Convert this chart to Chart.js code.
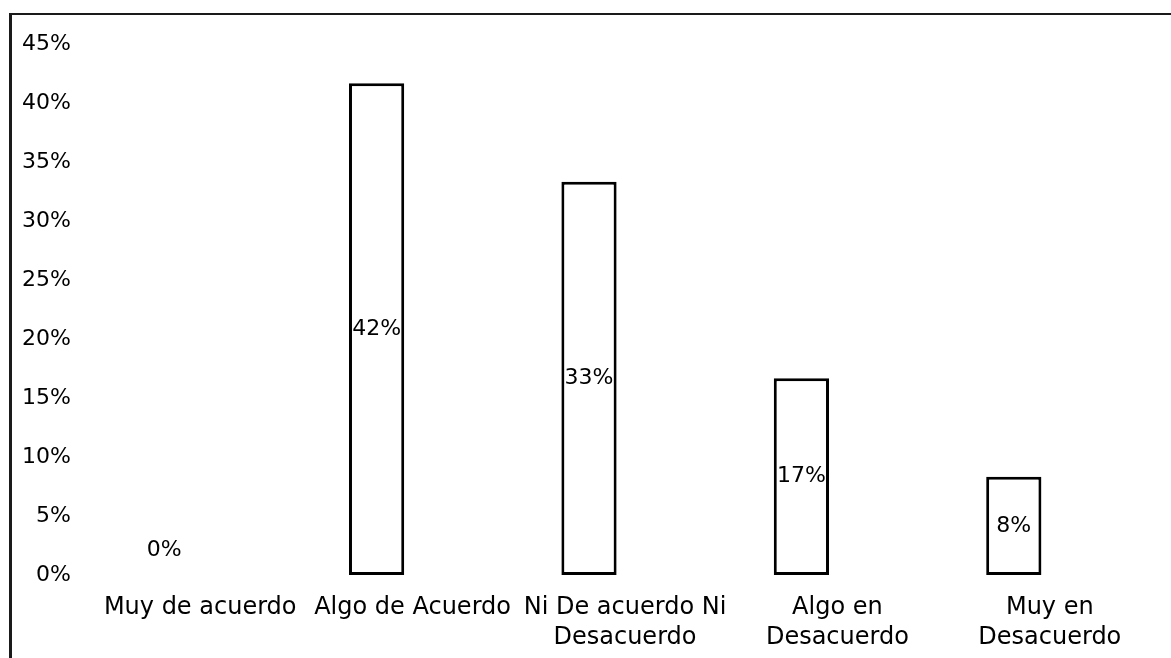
<!DOCTYPE html>
<html>
<head>
<meta charset="utf-8">
<script src="https://cdn.jsdelivr.net/npm/chart.js@4.4.0/dist/chart.umd.min.js"></script>
<style>
  html, body { margin: 0; padding: 0; background: #fff; overflow: hidden; }
  #wrap { position: relative; width: 1171px; height: 658px; }
  #frame { position: absolute; left: 9px; top: 13px; width: 1220px; height: 720px;
           border-left: 3px solid #1a1a1a; border-top: 2px solid #1a1a1a; }
  #myChart { position: absolute; left: 0; top: 0; }
</style>
</head>
<body>
<div id="wrap">
  <div id="frame"></div>
  <canvas id="myChart" width="1171" height="658"></canvas>
</div>
<script>
// answer categories (multi-line labels as in the original)
const categories = [
    ['Muy de acuerdo'],
    ['Algo de Acuerdo'],
    ['Ni De acuerdo Ni', 'Desacuerdo'],
    ['Algo en', 'Desacuerdo'],
    ['Muy en', 'Desacuerdo']
];
// share of answers, in %
const percentages = [0, 41.67, 33.33, 16.67, 8.33];
const valueLabels = ['0%', '42%', '33%', '17%', '8%'];
// y axis: 0% .. 45% every 5%
const yMax = 45;
const yStep = 5;

const FONT = '"DejaVu Sans", sans-serif';

// draws the percentage in the middle of each bar (above it when the bar is empty)
const barLabels = {
    id: 'barLabels',
    afterDatasetsDraw(chart) {
        const ctx = chart.ctx;
        const meta = chart.getDatasetMeta(0);
        ctx.save();
        ctx.font = '22px ' + FONT;
        ctx.fillStyle = '#000';
        ctx.textAlign = 'center';
        ctx.textBaseline = 'middle';
        meta.data.forEach((bar, i) => {
            let y = (bar.y + bar.base) / 2;
            if (bar.base - bar.y < 30) y = bar.base - 25;
            ctx.fillText(valueLabels[i], bar.x, y);
        });
        ctx.restore();
    }
};

new Chart(document.getElementById('myChart').getContext('2d'), {
    type: 'bar',
    data: {
        labels: categories,
        datasets: [{
            data: percentages,
            backgroundColor: '#fff',
            borderColor: '#000',
            borderWidth: (c) => (c.raw === 0 ? 0 : 3),
            borderSkipped: false,
            categoryPercentage: 1,
            barPercentage: 0.26
        }]
    },
    options: {
        responsive: false,
        animation: false,
        devicePixelRatio: 1,
        layout: { padding: { left: 38, right: 51, top: 44, bottom: 0 } },
        plugins: {
            legend: { display: false },
            tooltip: { enabled: false }
        },
        scales: {
            x: {
                grid: { display: false, drawTicks: false },
                border: { display: false },
                afterFit: (s) => { s.height = 83; },
                ticks: {
                    color: '#000',
                    font: { family: FONT, size: 24, lineHeight: 1.25 },
                    padding: 18,
                    labelOffset: 36,
                    maxRotation: 0,
                    autoSkip: false
                }
            },
            y: {
                min: 0,
                max: yMax,
                grid: { display: false, drawTicks: false },
                border: { display: false },
                afterFit: (s) => { s.width = 20; },
                ticks: {
                    stepSize: yStep,
                    color: '#000',
                    font: { family: FONT, size: 22 },
                    mirror: true,
                    crossAlign: 'far',
                    padding: -36,
                    callback: (v) => v + '%'
                }
            }
        }
    },
    plugins: [barLabels]
});
</script>
</body>
</html>
